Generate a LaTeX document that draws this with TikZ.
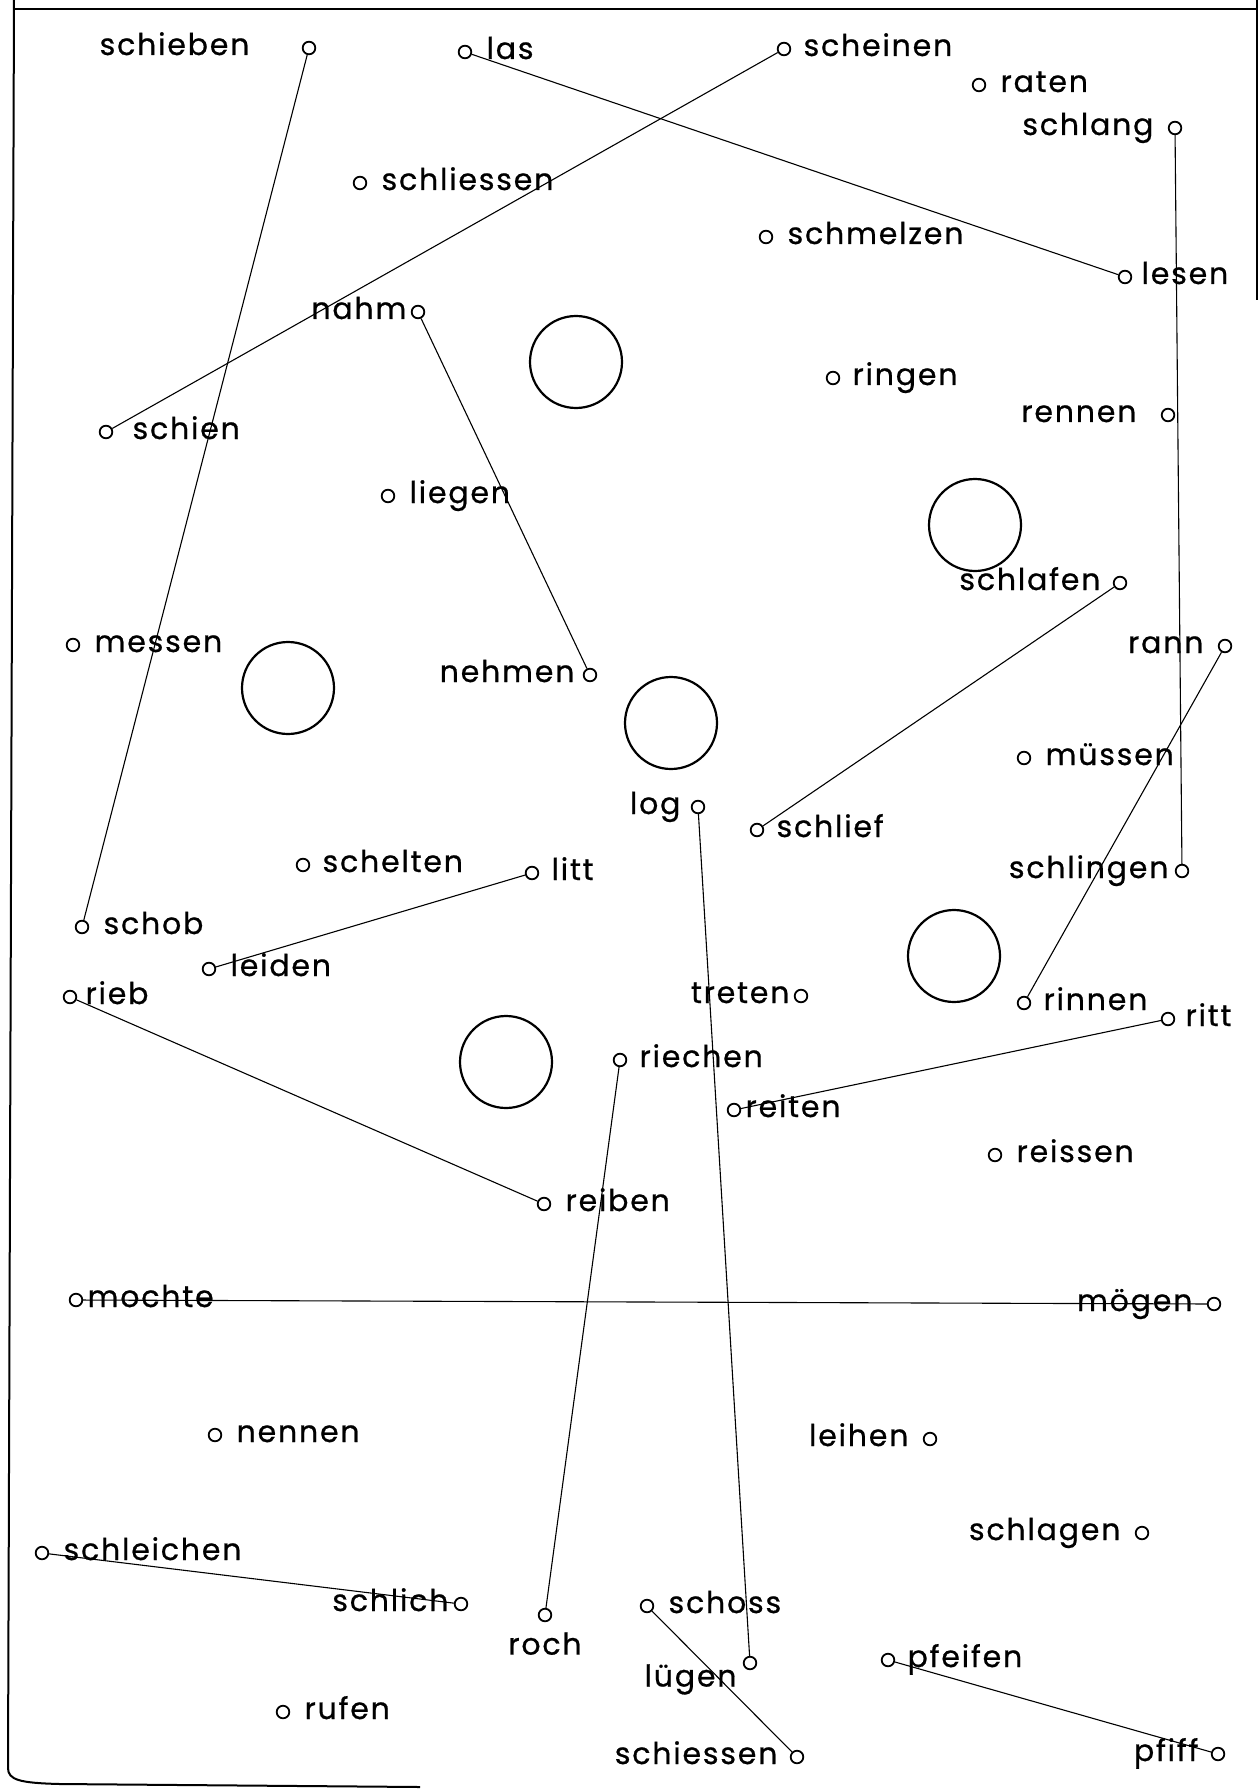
\documentclass[tikz,border=0pt]{standalone}
\usepackage{fontspec}
\setmainfont{Poppins}[LetterSpace=6,FakeBold=0.7]
\usetikzlibrary{positioning}

\begin{document}
\begin{tikzpicture}[x=0.5pt,y=-0.5pt,node distance=7pt,
  ring/.style={draw,circle,line width=0.9pt,minimum size=6.3pt,inner sep=0pt},
  word/.style={inner sep=0pt,font=\fontsize{15}{17}\selectfont,text height=0.7em,text depth=0pt},
  hole/.style={draw,circle,line width=1.1pt,minimum size=46pt,inner sep=0pt},
  link/.style={line width=0.55pt},
  frame/.style={line width=1pt}]
\useasboundingbox (0,0) rectangle (1259,1791);
% frame
\coordinate (tl) at (14,0);
\coordinate (tr) at (1257,0);
\draw[frame] (14,9) -- (1257,9);
\draw[frame] (tl) -- (8,1768) .. controls (8,1780) and (20,1783) .. (60,1784) -- (420,1787);
\draw[frame,line width=0.7pt] (tr) -- (1257,300);
% big rings
\node[hole] (hole1) at (576,362) {};
\node[hole] (hole2) at (288,688) {};
\node[hole] (hole3) at (975,525) {};
\node[hole] (hole4) at (671,723) {};
\node[hole] (hole5) at (506,1062) {};
\node[hole] (hole6) at (954,956) {};
% markers
\node[ring] (schieben) at (309,48) {};
\node[ring] (las) at (465,52) {};
\node[ring] (scheinen) at (784,49) {};
\node[ring] (raten) at (979,85) {};
\node[ring] (schlang) at (1175,128) {};
\node[ring] (schliessen) at (360,183) {};
\node[ring] (schmelzen) at (766,237) {};
\node[ring] (lesen) at (1125,277) {};
\node[ring] (nahm) at (418,312) {};
\node[ring] (ringen) at (833,378) {};
\node[ring] (schien) at (106,432) {};
\node[ring] (rennen) at (1168,415) {};
\node[ring] (liegen) at (388,496) {};
\node[ring] (schlafen) at (1120,583) {};
\node[ring] (messen) at (73,645) {};
\node[ring] (nehmen) at (590,675) {};
\node[ring] (rann) at (1225,646) {};
\node[ring] (muessen) at (1024,758) {};
\node[ring] (log) at (698,807) {};
\node[ring] (schlief) at (757,830) {};
\node[ring] (schelten) at (303,865) {};
\node[ring] (litt) at (532,873) {};
\node[ring] (schlingen) at (1182,871) {};
\node[ring] (schob) at (82,927) {};
\node[ring] (leiden) at (209,969) {};
\node[ring] (rieb) at (70,997) {};
\node[ring] (treten) at (801,996) {};
\node[ring] (rinnen) at (1024,1003) {};
\node[ring] (ritt) at (1168,1019) {};
\node[ring] (riechen) at (620,1060) {};
\node[ring] (reiten) at (734,1110) {};
\node[ring] (reissen) at (995,1155) {};
\node[ring] (reiben) at (544,1204) {};
\node[ring] (mochte) at (76,1300) {};
\node[ring] (moegen) at (1214,1304) {};
\node[ring] (nennen) at (215,1435) {};
\node[ring] (leihen) at (930,1439) {};
\node[ring] (schlagen) at (1142,1533) {};
\node[ring] (schleichen) at (42,1553) {};
\node[ring] (schlich) at (461,1604) {};
\node[ring] (schoss) at (647,1606) {};
\node[ring] (roch) at (545,1615) {};
\node[ring] (pfeifen) at (888,1660) {};
\node[ring] (luegen) at (750,1663) {};
\node[ring] (rufen) at (283,1712) {};
\node[ring] (pfiff) at (1218,1754) {};
\node[ring] (schiessen) at (797,1757) {};
% words
\node[word,left=26pt of schieben] {schieben};
\node[word,right=of las] {las};
\node[word,right=6pt of scheinen] {scheinen};
\node[word,right=of raten] {raten};
\node[word,left=of schlang] {schlang};
\node[word,right=of schliessen] {schliessen};
\node[word,right=of schmelzen] {schmelzen};
\node[word,right=4.5pt of lesen] {lesen};
\node[word,left=2pt of nahm] {nahm};
\node[word,right=6pt of ringen] {ringen};
\node[word,right=9.5pt of schien] {schien};
\node[word,left=12pt of rennen] {rennen};
\node[word,right=of liegen] {liegen};
\node[word,left=6pt of schlafen] {schlafen};
\node[word,right=of messen] {messen};
\node[word,left=4pt of nehmen] {nehmen};
\node[word,left=of rann] {rann};
\node[word,right=of muessen] {müssen};
\node[word,left=5pt of log] {log};
\node[word,right=6pt of schlief] {schlief};
\node[word,right=6pt of schelten] {schelten};
\node[word,right=6pt of litt] {litt};
\node[word,left=3pt of schlingen] {schlingen};
\node[word,right=of schob] {schob};
\node[word,right=of leiden] {leiden};
\node[word,right=4pt of rieb] {rieb};
\node[word,left=2pt of treten] {treten};
\node[word,right=6pt of rinnen] {rinnen};
\node[word,right=5pt of ritt] {ritt};
\node[word,right=6pt of riechen] {riechen};
\node[word,right=2pt of reiten] {reiten};
\node[word,right=of reissen] {reissen};
\node[word,right=of reiben] {reiben};
\node[word,right=2pt of mochte] {mochte};
\node[word,left=of moegen] {mögen};
\node[word,right=of nennen] {nennen};
\node[word,left=of leihen] {leihen};
\node[word,left=of schlagen] {schlagen};
\node[word,right=of schleichen] {schleichen};
\node[word,left=2.5pt of schlich] {schlich};
\node[word,right=of schoss] {schoss};
\node[word,below=9pt of roch] {roch};
\node[word,below left=2pt and 4pt of luegen] {lügen};
\node[word,right=6pt of pfeifen] {pfeifen};
\node[word,right=of rufen] {rufen};
\node[word,left=6pt of pfiff] {pfiff};
\node[word,left=6pt of schiessen] {schiessen};
% pairs
\draw[link] (schieben) -- (schob);
\draw[link] (las) -- (lesen);
\draw[link] (scheinen) -- (schien);
\draw[link] (nahm) -- (nehmen);
\draw[link] (schlang) -- (schlingen);
\draw[link] (schlafen) -- (schlief);
\draw[link] (rann) -- (rinnen);
\draw[link] (litt) -- (leiden);
\draw[link] (rieb) -- (reiben);
\draw[link] (log) -- (luegen);
\draw[link] (riechen) -- (roch);
\draw[link] (ritt) -- (reiten);
\draw[link] (mochte) -- (moegen);
\draw[link] (schleichen) -- (schlich);
\draw[link] (schoss) -- (schiessen);
\draw[link] (pfeifen) -- (pfiff);
\end{tikzpicture}
\end{document}
